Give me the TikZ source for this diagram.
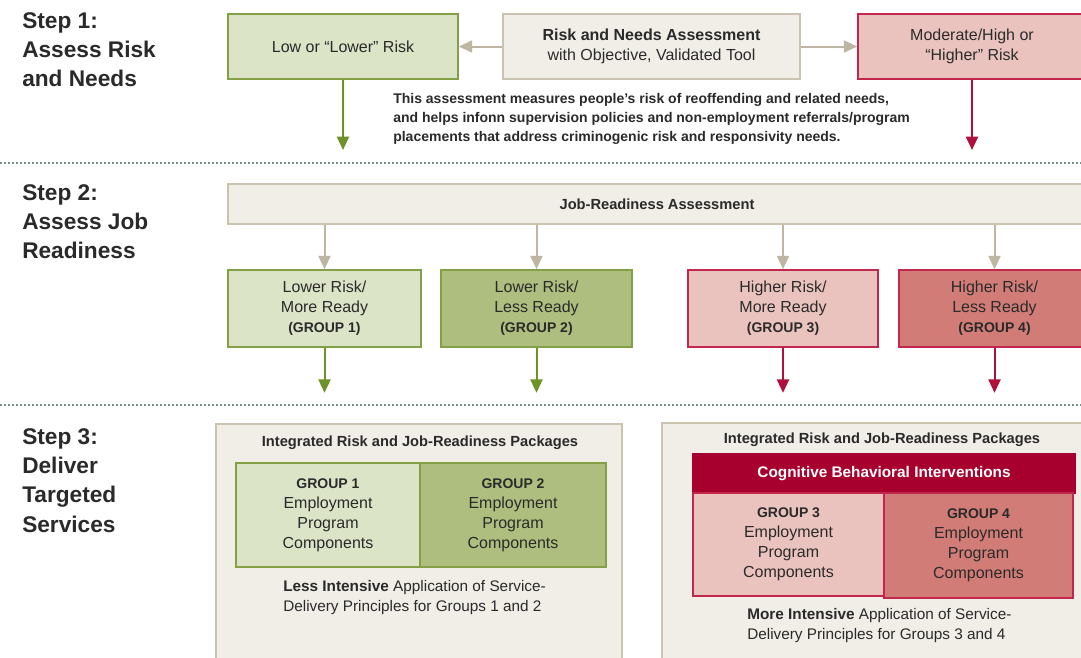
\documentclass[tikz,border=0pt]{standalone}
\usepackage{fontspec}
\setmainfont{Liberation Sans}
\usetikzlibrary{positioning,arrows.meta}

\definecolor{inkgrey}{HTML}{2A2A2A}
\definecolor{lowfill}{HTML}{DCE4C7}
\definecolor{lowdark}{HTML}{ADBE7E}
\definecolor{lowline}{HTML}{84A046}
\definecolor{lowarrow}{HTML}{6E9128}
\definecolor{highfill}{HTML}{EBC3BE}
\definecolor{highdark}{HTML}{D27C77}
\definecolor{highline}{HTML}{C2284E}
\definecolor{higharrow}{HTML}{B0103C}
\definecolor{cbibar}{HTML}{A8002E}
\definecolor{tanfill}{HTML}{F1EEE7}
\definecolor{tanline}{HTML}{CAC3B0}
\definecolor{tanarrow}{HTML}{BDB6A2}
\definecolor{dotline}{HTML}{7D8F8C}

\newcommand{\grouptag}{\fontsize{10.5}{15}\selectfont\bfseries}

\begin{document}
\begin{tikzpicture}[x=0.75pt,y=-0.75pt,
  font=\fontsize{12}{15}\selectfont, text=inkgrey,
  box/.style={draw, line width=1.2pt, align=center, inner sep=0pt},
  lowbox/.style={box, draw=lowline, fill=lowfill},
  lowdarkbox/.style={box, draw=lowline, fill=lowdark},
  highbox/.style={box, draw=highline, fill=highfill},
  highdarkbox/.style={box, draw=highline, fill=highdark},
  tanbox/.style={box, draw=tanline, fill=tanfill},
  steplabel/.style={anchor=north west, align=left, inner sep=0pt,
    font=\fontsize{17}{22}\selectfont\bfseries},
  heading/.style={font=\fontsize{11}{14}\selectfont\bfseries},
  note/.style={anchor=west, align=left, inner sep=0pt, font=\fontsize{11.5}{15.5}\selectfont},
  flow/.style={line width=1.5pt, -{Triangle[width=9pt,length=10pt]}},
  separator/.style={draw=dotline, line width=1.6pt, dash pattern=on 1.6pt off 1.4pt}]

 \useasboundingbox [fill=white] (0,0) rectangle (1081,657);

 % step titles
 \node [steplabel] (step1) at (22,12) {Step 1:\\Assess Risk\\and Needs};
 \node [steplabel] (step2) at (22,184) {Step 2:\\Assess Job\\Readiness};
 \node [steplabel] (step3) at (22,428) {Step 3:\\Deliver\\Targeted\\Services};

 % separators
 \coordinate (sepA-l) at (0,163);  \coordinate (sepA-r) at (1081,163);
 \coordinate (sepB-l) at (0,405);  \coordinate (sepB-r) at (1081,405);
 \draw [separator] (sepA-l) -- (sepA-r);
 \draw [separator] (sepB-l) -- (sepB-r);

 % step 1
 \node [tanbox, minimum width=222.75pt, minimum height=48.75pt] (rna) at (651.5,46.5)
   {\textbf{Risk and Needs Assessment}\\with Objective, Validated Tool};
 \node [lowbox, minimum width=172.5pt, minimum height=48.75pt] (lowrisk) at (343,46.5)
   {Low or “Lower” Risk};
 \node [highbox, minimum width=171pt, minimum height=48.75pt] (highrisk) at (972,46.5)
   {Moderate/High or\\“Higher” Risk};
 \draw [flow, tanarrow] (rna) -- (lowrisk);
 \draw [flow, tanarrow] (rna) -- (highrisk);
 \node [anchor=north west, align=left, inner sep=0pt, font=\fontsize{10.5}{14.25}\selectfont\bfseries] (about) at (393,93)
   {This assessment measures people's risk of reoffending and related needs,\\
    and helps infonn supervision policies and non-employment referrals/program\\
    placements that address criminogenic risk and responsivity needs.};
 \coordinate (lowend) at (343,150);
 \coordinate (highend) at (972,150);
 \draw [flow, lowarrow] (lowrisk) -- (lowend);
 \draw [flow, higharrow] (highrisk) -- (highend);

 % step 2
 \node [tanbox, minimum width=643.5pt, minimum height=30pt] (jra) at (657,204)
   {\fontsize{11}{14}\selectfont\bfseries Job-Readiness Assessment};
 \node [lowbox, minimum width=144.75pt, minimum height=57.75pt] (g1) at (324.5,308.5)
   {Lower Risk/\\More Ready\\{\grouptag (GROUP 1)}};
 \node [lowdarkbox, minimum width=143.25pt, minimum height=57.75pt] (g2) at (536.5,308.5)
   {Lower Risk/\\Less Ready\\{\grouptag (GROUP 2)}};
 \node [highbox, minimum width=142.5pt, minimum height=57.75pt] (g3) at (783,308.5)
   {Higher Risk/\\More Ready\\{\grouptag (GROUP 3)}};
 \node [highdarkbox, minimum width=143.25pt, minimum height=57.75pt] (g4) at (994.5,308.5)
   {Higher Risk/\\Less Ready\\{\grouptag (GROUP 4)}};
 \foreach \g in {g1,g2,g3,g4}
   \draw [flow, tanarrow] (jra.south -| \g.north) -- (\g.north);
 \foreach \g/\c in {g1/lowarrow,g2/lowarrow,g3/higharrow,g4/higharrow} {
   \path (\g.south) ++(0,45) coordinate (\g-end);
   \draw [flow, \c] (\g.south) -- (\g-end);
 }

 % step 3, left
 \node [tanbox, minimum width=304.5pt, minimum height=180.75pt] (lowpack) at (419,544.5) {};
 \node [heading] (lowhead) at (420,443) {Integrated Risk and Job-Readiness Packages};
 \node [lowbox, minimum width=138pt, minimum height=78pt] (p1) at (328,515)
   {{\grouptag GROUP 1}\\Employment\\Program\\Components};
 \node [lowdarkbox, minimum width=139.5pt, minimum height=78pt] (p2) at (513,515)
   {{\grouptag GROUP 2}\\Employment\\Program\\Components};
 \node [note] (lownote) at (283,597.5)
   {\textbf{Less Intensive} Application of Service-\\Delivery Principles for Groups 1 and 2};

 % step 3, right
 \node [tanbox, minimum width=321pt, minimum height=180.75pt] (highpack) at (876,543.5) {};
 \node [heading] (highhead) at (882,440) {Integrated Risk and Job-Readiness Packages};
 \node [box, draw=cbibar, fill=cbibar, text=white, minimum width=286.5pt, minimum height=29.25pt,
   font=\fontsize{11.5}{14}\selectfont\bfseries] (cbi) at (884,473.5) {Cognitive Behavioral Interventions};
 \node [highbox, minimum width=143.25pt, minimum height=77.25pt] (p3) at (788.5,544.5)
   {{\grouptag GROUP 3}\\Employment\\Program\\Components};
 \node [highdarkbox, minimum width=141.75pt, minimum height=78.75pt] (p4) at (978.5,545.5)
   {{\grouptag GROUP 4}\\Employment\\Program\\Components};
 \node [note] (highnote) at (747,625.5)
   {\textbf{More Intensive} Application of Service-\\Delivery Principles for Groups 3 and 4};
\end{tikzpicture}
\end{document}
